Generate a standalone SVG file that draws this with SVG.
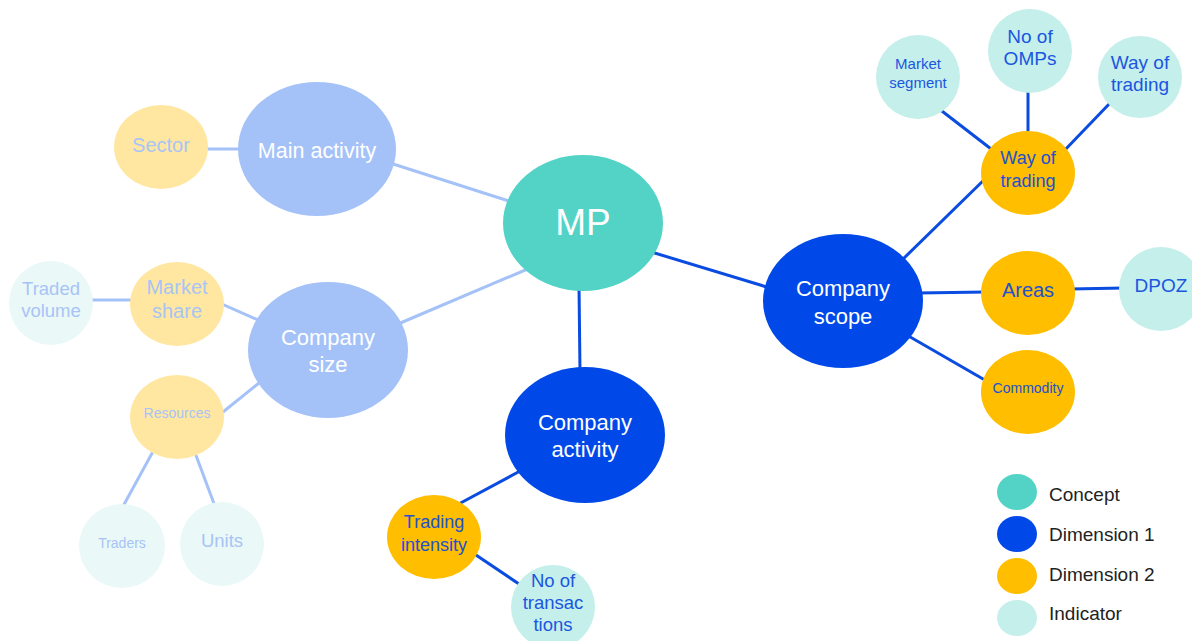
<svg xmlns="http://www.w3.org/2000/svg" width="1192" height="641" viewBox="0 0 1192 641">
<style>
text{font-family:"Liberation Sans",Arial,sans-serif;text-anchor:middle}
.e{stroke:#0A4BE0;stroke-width:3;fill:none}
.ef{stroke:#A4C2F8;stroke-width:3;fill:none}
.concept{fill:#52D3C6}
.dim1{fill:#0049E8}
.dim2{fill:#FFBE00}
.ind{fill:#C4EFEB}
.dim1f{fill:#A4C2F8}
.dim2f{fill:#FFE7A2}
.indf{fill:#EAF8F8}
.tw{fill:#FFFFFF}
.tb{fill:#2150D0}
.ti{fill:#1A56E0}
.tf{fill:#A8C4F5}
.lg{fill:#222222;text-anchor:start;font-size:19px}
</style>
<rect width="1192" height="641" fill="#FFFFFF"/>
<g id="connectors">
<line class="ef" x1="200" y1="149" x2="245" y2="149"/>
<line class="ef" x1="390" y1="163" x2="512" y2="202"/>
<line class="ef" x1="398" y1="324" x2="530" y2="268"/>
<line class="ef" x1="215" y1="301" x2="265" y2="323"/>
<line class="ef" x1="90" y1="300" x2="135" y2="300"/>
<line class="ef" x1="218" y1="416" x2="264" y2="379"/>
<line class="ef" x1="156" y1="446" x2="121" y2="510"/>
<line class="ef" x1="194" y1="450" x2="216" y2="509"/>
<line class="e" x1="579" y1="285" x2="580" y2="372"/>
<line class="e" x1="648" y1="251" x2="770" y2="288"/>
<line class="e" x1="522" y1="470" x2="455" y2="506"/>
<line class="e" x1="470" y1="551" x2="522" y2="586"/>
<line class="e" x1="900" y1="262" x2="988" y2="176"/>
<line class="e" x1="918" y1="293" x2="986" y2="292"/>
<line class="e" x1="905" y1="334" x2="990" y2="383"/>
<line class="e" x1="1070" y1="289" x2="1124" y2="288"/>
<line class="e" x1="938" y1="108" x2="995" y2="152"/>
<line class="e" x1="1028" y1="88" x2="1028" y2="135"/>
<line class="e" x1="1112" y1="101" x2="1062" y2="153"/>
</g>
<g id="mp"><ellipse class="concept" cx="583" cy="223" rx="80" ry="68"/><text class="tw" x="583" y="235" font-size="37">MP</text></g>
<g id="main-activity"><ellipse class="dim1f" cx="317" cy="149" rx="79" ry="67"/><text class="tw" x="317" y="158" font-size="21.5">Main activity</text></g>
<g id="sector"><ellipse class="dim2f" cx="161" cy="147" rx="47" ry="42"/><text class="tf" x="161" y="152" font-size="20">Sector</text></g>
<g id="company-size"><ellipse class="dim1f" cx="328" cy="350" rx="80" ry="68"/><text class="tw" x="328" y="345" font-size="22">Company</text><text class="tw" x="328" y="372" font-size="22">size</text></g>
<g id="market-share"><ellipse class="dim2f" cx="177" cy="304" rx="47" ry="42"/><text class="tf" x="177" y="294" font-size="20">Market</text><text class="tf" x="177" y="318" font-size="20">share</text></g>
<g id="traded-volume"><ellipse class="indf" cx="51" cy="303" rx="42" ry="42"/><text class="tf" x="51" y="295" font-size="18.5">Traded</text><text class="tf" x="51" y="317" font-size="18.5">volume</text></g>
<g id="resources"><ellipse class="dim2f" cx="177" cy="417" rx="47" ry="42"/><text class="tf" x="177" y="418" font-size="14">Resources</text></g>
<g id="traders"><ellipse class="indf" cx="122" cy="546" rx="43" ry="42"/><text class="tf" x="122" y="548" font-size="14">Traders</text></g>
<g id="units"><ellipse class="indf" cx="222" cy="544" rx="42" ry="42"/><text class="tf" x="222" y="547" font-size="18.5">Units</text></g>
<g id="company-activity"><ellipse class="dim1" cx="585" cy="435" rx="80" ry="68"/><text class="tw" x="585" y="430" font-size="22">Company</text><text class="tw" x="585" y="457" font-size="22">activity</text></g>
<g id="trading-intensity"><ellipse class="dim2" cx="434" cy="537" rx="47" ry="42"/><text class="tb" x="434" y="528" font-size="18">Trading</text><text class="tb" x="434" y="551" font-size="18">intensity</text></g>
<g id="no-of-transactions"><ellipse class="ind" cx="553" cy="607" rx="42" ry="42"/><text class="ti" x="553" y="587" font-size="18.5">No of</text><text class="ti" x="553" y="609" font-size="18.5">transac</text><text class="ti" x="553" y="631" font-size="18.5">tions</text></g>
<g id="company-scope"><ellipse class="dim1" cx="843" cy="301" rx="80" ry="67"/><text class="tw" x="843" y="296" font-size="22">Company</text><text class="tw" x="843" y="324" font-size="22">scope</text></g>
<g id="way-of-trading"><ellipse class="dim2" cx="1028" cy="173" rx="47" ry="42"/><text class="tb" x="1028" y="164" font-size="18">Way of</text><text class="tb" x="1028" y="187" font-size="18">trading</text></g>
<g id="areas"><ellipse class="dim2" cx="1028" cy="293" rx="47" ry="42"/><text class="tb" x="1028" y="297" font-size="20">Areas</text></g>
<g id="commodity"><ellipse class="dim2" cx="1028" cy="392" rx="47" ry="42"/><text class="tb" x="1028" y="393" font-size="14">Commodity</text></g>
<g id="dpoz"><ellipse class="ind" cx="1161" cy="289" rx="42" ry="42"/><text class="ti" x="1161" y="292" font-size="19">DPOZ</text></g>
<g id="market-segment"><ellipse class="ind" cx="918" cy="77" rx="42" ry="42"/><text class="ti" x="918" y="69" font-size="15">Market</text><text class="ti" x="918" y="88" font-size="15">segment</text></g>
<g id="no-of-omps"><ellipse class="ind" cx="1030" cy="51" rx="42" ry="42"/><text class="ti" x="1030" y="43" font-size="19">No of</text><text class="ti" x="1030" y="65" font-size="19">OMPs</text></g>
<g id="way-of-trading-indicator"><ellipse class="ind" cx="1140" cy="77" rx="42" ry="41"/><text class="ti" x="1140" y="69" font-size="19">Way of</text><text class="ti" x="1140" y="91" font-size="19">trading</text></g>
<g id="legend">
<ellipse class="concept" cx="1017" cy="492" rx="20" ry="18"/><text class="lg" x="1049" y="501">Concept</text>
<ellipse class="dim1" cx="1017" cy="534" rx="20" ry="18"/><text class="lg" x="1049" y="541">Dimension 1</text>
<ellipse class="dim2" cx="1017" cy="576" rx="20" ry="18"/><text class="lg" x="1049" y="581">Dimension 2</text>
<ellipse class="ind" cx="1017" cy="618" rx="20" ry="18"/><text class="lg" x="1049" y="620">Indicator</text>
</g>
</svg>
